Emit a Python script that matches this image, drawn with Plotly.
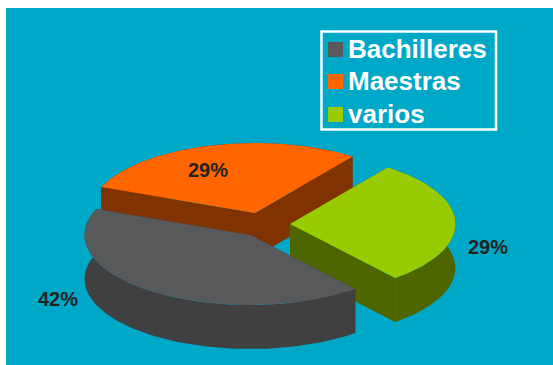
import math
import plotly.graph_objects as go

# Data
categories = ["Bachilleres", "Maestras", "varios"]
values = [42, 29, 29]

# Styling / pie geometry
top_colors = ["#58595B", "#FF6600", "#99CC00"]
side_colors = ["#404040", "#803300", "#4D6600"]
TEAL = "#00A8C8"
W, H = 553, 365
RX, RY, DEPTH = 165.5, 70, 44
START_ANGLE = -50.5            # degrees, running clockwise
slice_origin_x = [250, 255, 290]
slice_origin_y = [235, 213, 224]
draw_order = [1, 2, 0]         # back to front
label_pos = [(58, 299), (207.5, 170), (488, 247)]

fig = go.Figure()


def poly(xs, ys, color, name):
    fig.add_trace(go.Scatter(
        x=xs + xs[:1], y=ys + ys[:1], mode="lines", fill="toself", fillcolor=color,
        line=dict(color=color, width=0), hoverinfo="skip", showlegend=False, name=name))


# angular extents from values
total = sum(values)
bounds = []
a = START_ANGLE
for v in values:
    b = a - 360 * v / total
    bounds.append((a, b))
    a = b

for i in draw_order:
    cx, cy = slice_origin_x[i], slice_origin_y[i]
    a0, b0 = bounds[i]
    n = 90
    ts = [math.radians(a0 + (b0 - a0) * k / n) for k in range(n + 1)]
    ax = [cx + RX * math.cos(t) for t in ts]
    ay = [cy - RY * math.sin(t) for t in ts]
    # radial walls
    for px, py in ((ax[0], ay[0]), (ax[-1], ay[-1])):
        poly([cx, px, px, cx], [cy, py, py + DEPTH, cy + DEPTH], side_colors[i], categories[i])
    # outer wall
    poly(ax + ax[::-1], ay + [y + DEPTH for y in ay[::-1]], side_colors[i], categories[i])
    # top face
    poly([cx] + ax, [cy] + ay, top_colors[i], categories[i])

annotations = []
for i, v in enumerate(values):
    lx, ly = label_pos[i]
    annotations.append(dict(x=lx, y=ly, xref="x", yref="y", text=f"{round(100 * v / total)}%",
                            showarrow=False, xanchor="center", yanchor="middle",
                            font=dict(family="Liberation Sans", size=20, color="#222222", weight="bold")))

# legend
shapes = [dict(type="rect", xref="x", yref="y", x0=321.5, y0=31.5, x1=496, y1=129.5,
               line=dict(color="white", width=2.5), fillcolor="rgba(0,0,0,0)")]
legend_y = [49.5, 81.5, 114.5]
for i, name in enumerate(categories):
    shapes.append(dict(type="rect", xref="x", yref="y", x0=328, x1=343,
                       y0=legend_y[i] - 7.5, y1=legend_y[i] + 7.5,
                       fillcolor=top_colors[i], line=dict(width=0)))
    annotations.append(dict(x=346, y=legend_y[i] - 1, xref="x", yref="y", text=name, showarrow=False,
                            xanchor="left", yanchor="middle",
                            font=dict(family="Liberation Sans", size=26, color="white", weight="bold")))

fig.update_layout(
    width=W, height=H, autosize=False,
    margin=dict(l=6, t=8, r=0, b=0, pad=0),
    paper_bgcolor="white", plot_bgcolor=TEAL,
    xaxis=dict(range=[6, W], visible=False, fixedrange=True),
    yaxis=dict(range=[H, 8], visible=False, fixedrange=True),
    shapes=shapes, annotations=annotations, showlegend=False,
)
fig.write_html("out.html", config=dict(displayModeBar=False, responsive=False),
               post_script="document.body.style.margin='0';")
